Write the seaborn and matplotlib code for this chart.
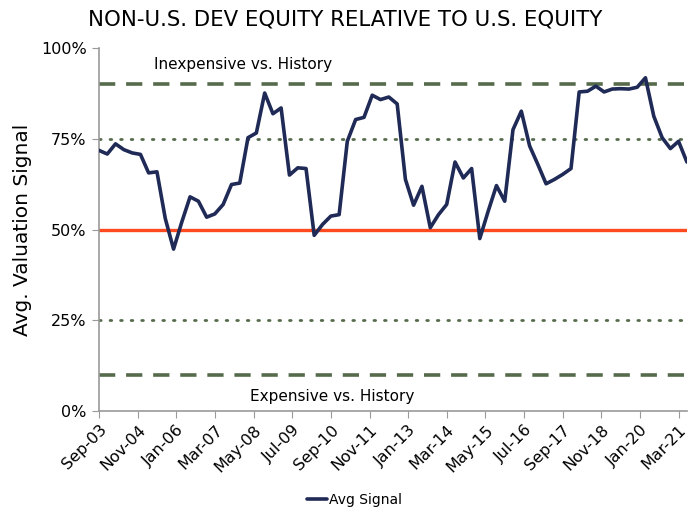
import matplotlib
matplotlib.use("Agg")
import matplotlib.pyplot as plt
import matplotlib.dates as mdates
import matplotlib.ticker as mticker
import numpy as np
import pandas as pd
import seaborn as sns

# quarterly observations, Sep-03 .. Jun-21
dates = pd.date_range("2003-09-01", periods=72, freq="3MS")
avg_signal = [
    71.8, 70.8, 73.6, 72.0, 71.1, 70.7, 65.6, 65.9, 53.0, 44.6, 52.0, 59.0,
    57.8, 53.4, 54.3, 56.9, 62.4, 62.8, 75.3, 76.6, 87.6, 81.9, 83.5, 65.0,
    67.0, 66.8, 48.4, 51.4, 53.7, 54.1, 74.3, 80.3, 80.9, 87.0, 85.8, 86.5,
    84.6, 63.8, 56.7, 61.9, 50.5, 54.1, 56.9, 68.6, 64.2, 66.8, 47.5, 55.0,
    62.1, 57.8, 77.5, 82.6, 73.0, 67.9, 62.6, 63.8, 65.2, 66.8, 87.9, 88.1,
    89.5, 87.9, 88.7, 88.8, 88.7, 89.2, 91.8, 81.2, 75.3, 72.3, 74.3, 68.6,
]
neutral = 50
inexpensive, expensive = 90, 10
upper_q, lower_q = 75, 25
y_ticks = [0, 25, 50, 75, 100]
tick_dates = pd.date_range("2003-09-01", periods=16, freq="14MS")

df = pd.DataFrame({"date": dates, "Avg Signal": avg_signal})

sns.set_style("white")
plt.rcParams["font.family"] = ["DejaVu Sans"]
plt.rcParams["text.color"] = "black"
plt.rcParams["xtick.color"] = "black"
plt.rcParams["ytick.color"] = "black"
plt.rcParams["axes.labelcolor"] = "black"

fig = plt.figure(figsize=(6.9, 5.11), dpi=100)
ax = fig.add_axes([0.1435, 0.1957, 0.852, 0.7103])

green = "#566B4C"
ax.axhline(inexpensive, color=green, lw=2.6, ls=(0, (4.5, 3)), zorder=1)
ax.axhline(expensive, color=green, lw=2.6, ls=(0, (4.5, 3)), zorder=1)
ax.axhline(upper_q, color=green, lw=2.0, ls=(0, (0.6, 3.2)), dash_capstyle="round", zorder=1)
ax.axhline(lower_q, color=green, lw=2.0, ls=(0, (0.6, 3.2)), dash_capstyle="round", zorder=1)
ax.axhline(neutral, color="#FF4A1F", lw=2.4, zorder=2)

sns.lineplot(data=df, x="date", y="Avg Signal", ax=ax, color="#1F2A56",
             lw=2.6, label="Avg Signal", zorder=3)

ax.set_ylim(0, 100)
ax.set_xlim(dates[0], dates[-1])
ax.set_yticks(y_ticks)
ax.yaxis.set_major_formatter(mticker.FuncFormatter(lambda v, p: f"{v:.0f}%"))
ax.set_xticks(tick_dates)
ax.xaxis.set_major_formatter(mdates.DateFormatter("%b-%y"))
plt.setp(ax.get_xticklabels(), rotation=45, ha="right", rotation_mode="anchor")
ax.tick_params(axis="x", labelsize=11.5, length=5, color="#999999", direction="out",
               bottom=True, pad=3)
ax.tick_params(axis="y", labelsize=11.5, length=5, color="#999999", direction="out",
               left=True, pad=4)

for s in ["top", "right"]:
    ax.spines[s].set_visible(False)
for s in ["left", "bottom"]:
    ax.spines[s].set_color("#999999")
    ax.spines[s].set_linewidth(1.2)

ax.set_xlabel("")
ax.set_ylabel("Avg. Valuation Signal", fontsize=14.5, labelpad=6)
fig.text(0.5, 1 - 20 / 511, "NON-U.S. DEV EQUITY RELATIVE TO U.S. EQUITY",
         ha="center", va="center", fontsize=15.3)

ax.text(0.245, 95.6, "Inexpensive vs. History", transform=ax.get_yaxis_transform(),
        ha="center", va="center", fontsize=11)
ax.text(0.397, 3.9, "Expensive vs. History", transform=ax.get_yaxis_transform(),
        ha="center", va="center", fontsize=11)

ax.legend(loc="center", bbox_to_anchor=(0.435, -0.245), frameon=False, fontsize=10,
          handlelength=1.4, handletextpad=0.2)

fig.savefig("out.png", dpi=100)
